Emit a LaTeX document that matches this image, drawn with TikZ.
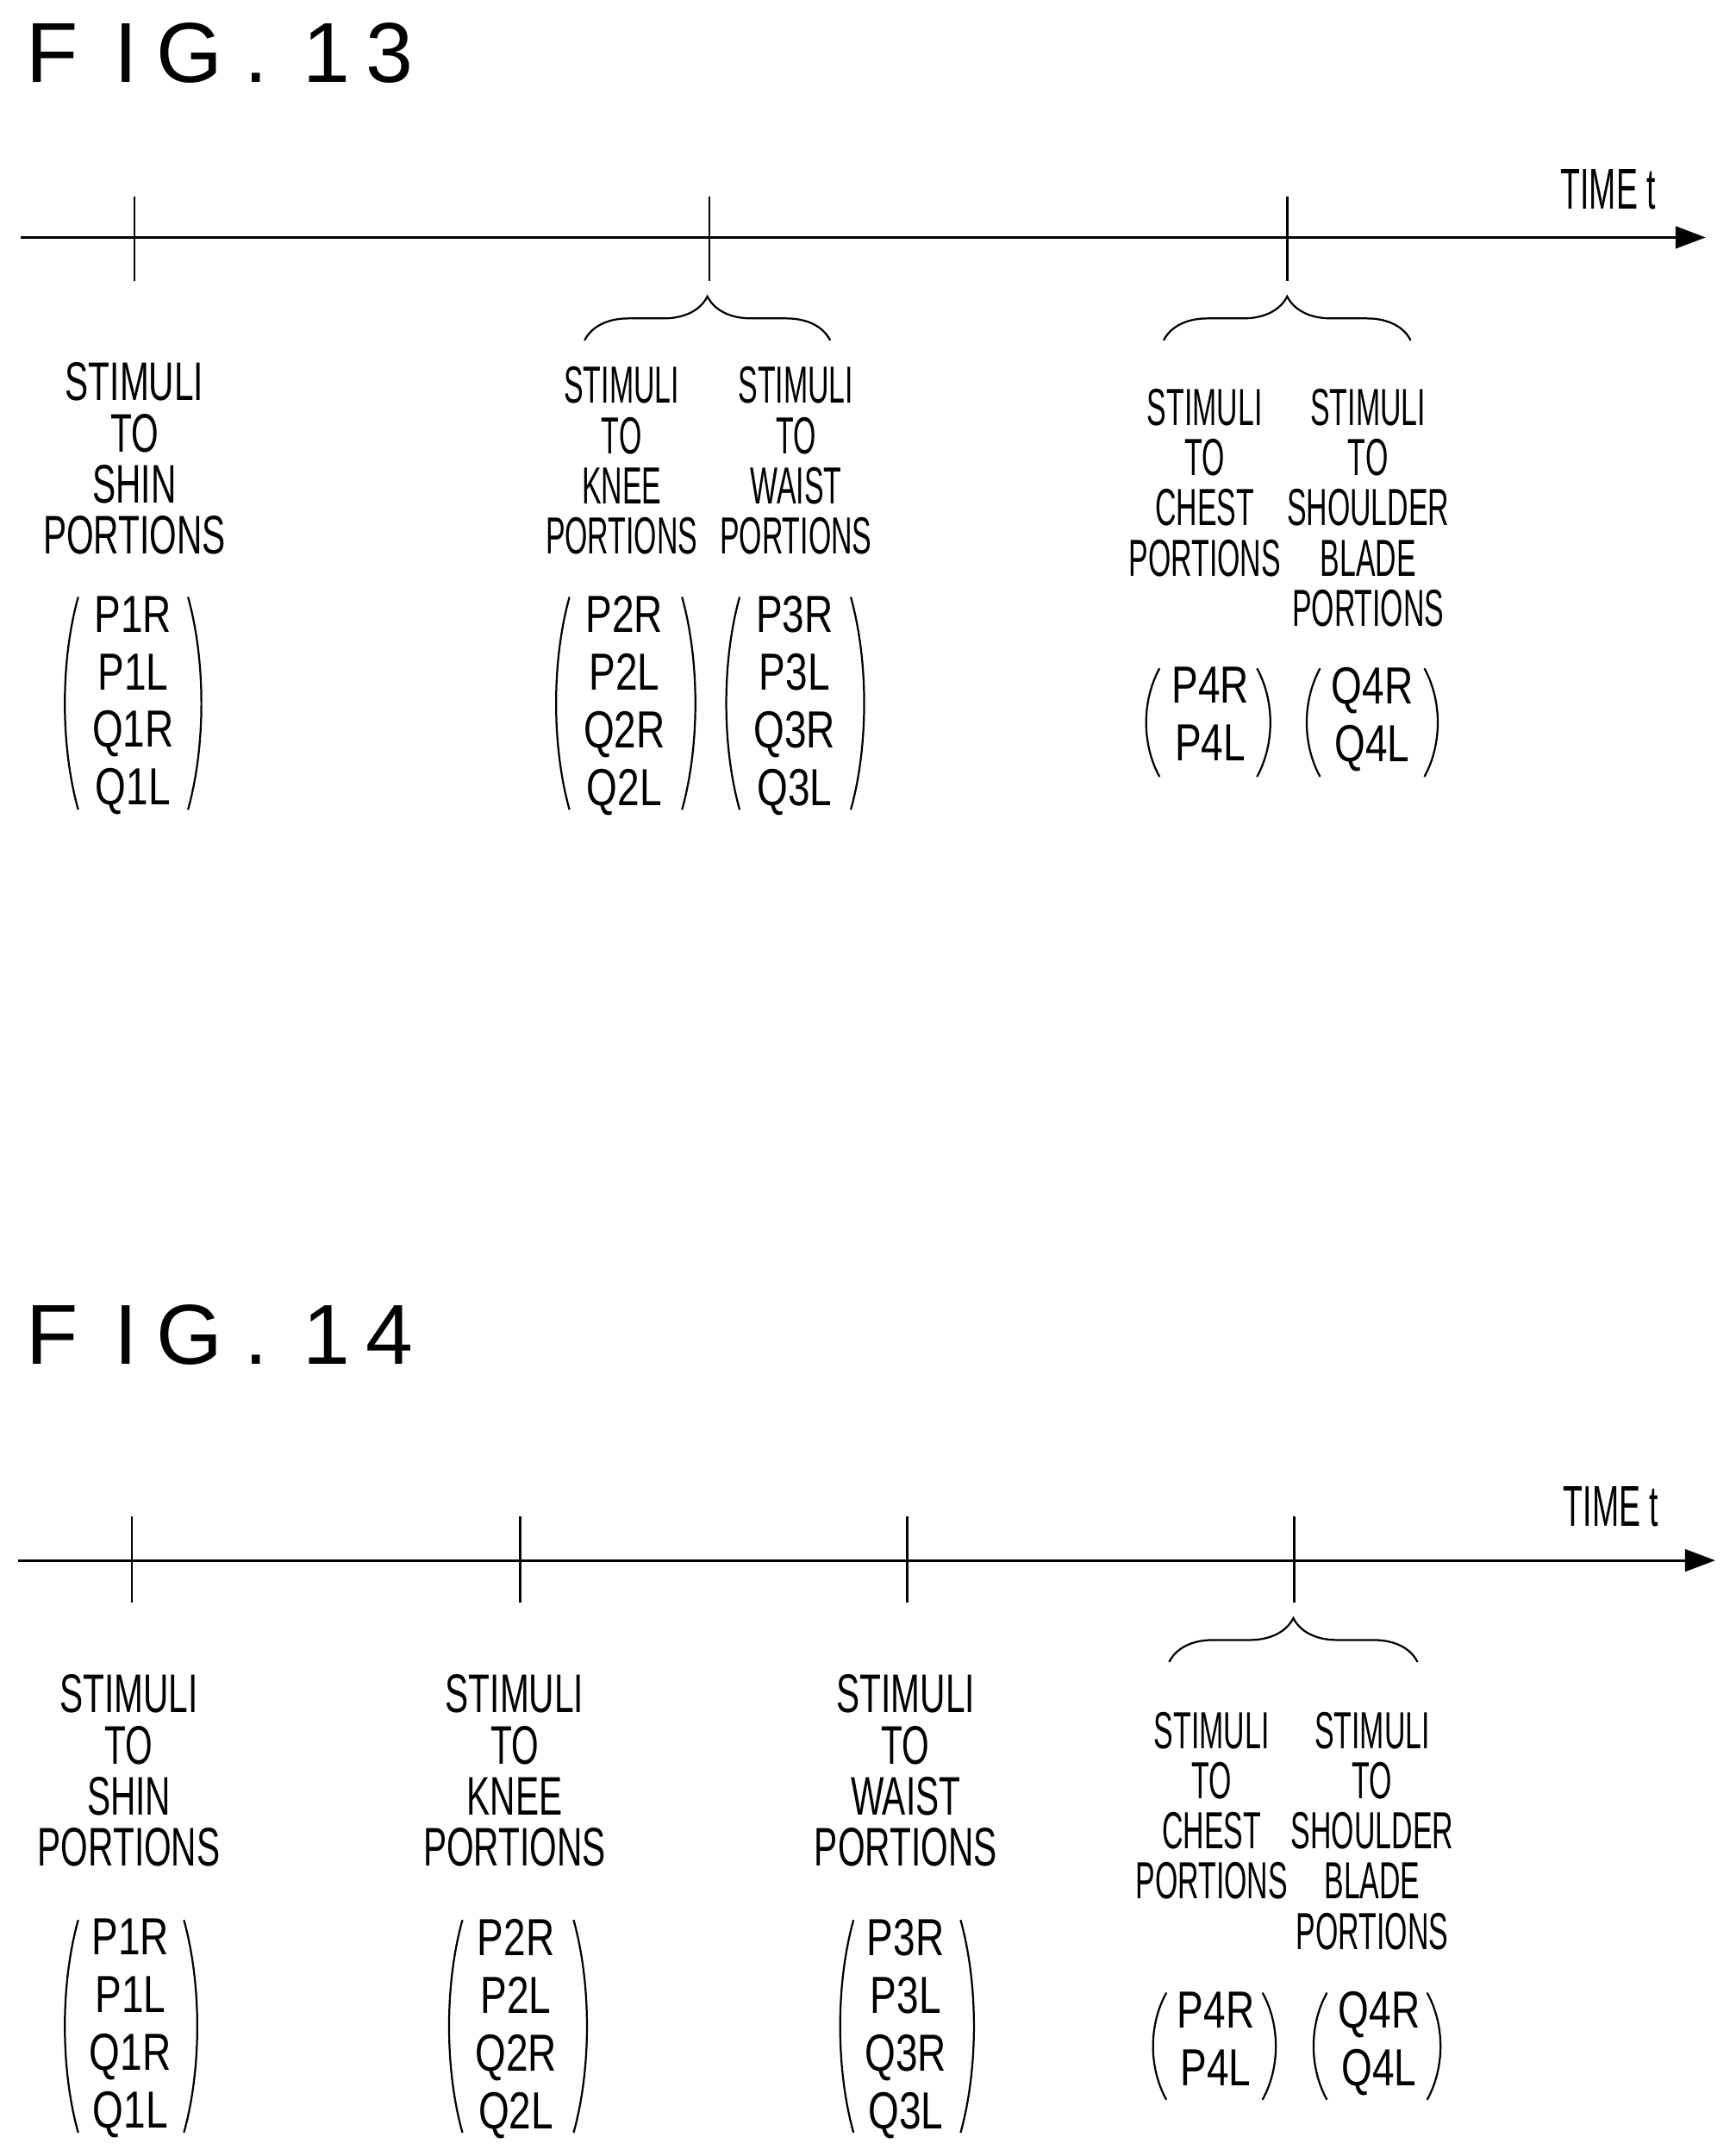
\documentclass[tikz,border=0pt]{standalone}
\usepackage{fontspec}
\setmainfont{Liberation Sans}
\newfontfamily\narrowf{Liberation Sans}[FakeStretch=0.56]
\newfontfamily\bigf{Liberation Sans}[FakeStretch=0.645]
\newfontfamily\matf{Liberation Sans}[FakeStretch=0.76]
\usetikzlibrary{arrows.meta,decorations.pathreplacing}
\tikzset{
 lab/.style={anchor=north,align=center,inner sep=0pt,font=\narrowf\fontsize{19}{18.3}\selectfont},
 labbig/.style={anchor=north,align=center,inner sep=0pt,font=\bigf\fontsize{19.8}{18.6}\selectfont},
 mat/.style={anchor=north,align=center,inner sep=0pt,font=\matf\fontsize{19}{21}\selectfont},
 ttl/.style={inner sep=0pt,anchor=base,font=\fontsize{31}{31}\selectfont},
 axis/.style={line width=1pt,-{Triangle[length=11pt,width=8pt]}},
 tick/.style={line width=0.8pt},
 brc/.style={line width=0.7pt,decorate,decoration={brace,amplitude=16pt}},
 par/.style={line width=0.7pt}
}
\newcommand{\parpair}[4]{% left x, right x, top, bottom
 \draw[par] (#1,#3) .. controls ({#1-13},{#3+(#4-#3)*0.3}) and ({#1-13},{#4-(#4-#3)*0.3}) .. (#1,#4);
 \draw[par] (#2,#3) .. controls ({#2+13},{#3+(#4-#3)*0.3}) and ({#2+13},{#4-(#4-#3)*0.3}) .. (#2,#4);}
\begin{document}
\begin{tikzpicture}[x=0.5pt,y=-0.5pt]
\useasboundingbox (0,0) rectangle (1265,1571);
% ---------- FIG 13
\foreach \c/\x [count=\i] in {F/38,I/92,G/138,./187,1/238,3/284}
  \node[ttl] (ta\i) at (\x,60) {\c};
\coordinate (a0) at (15,173); \coordinate (a1) at (1243,173);
\draw[axis] (a0) -- (a1);
\node[font=\narrowf\fontsize{21}{21}\selectfont,inner sep=0pt] (tA) at (1172,138) {TIME t};
\foreach \x [count=\i] in {98,517,938} \draw[tick] (\x,143) -- (\x,205);
\draw[brc] (426,248) -- (605,248);
\draw[brc] (848,248) -- (1028,248);
\node[labbig] (s1) at (98,264) {STIMULI\\TO\\SHIN\\PORTIONS};
\node[mat] (m1) at (97,434) {P1R\\P1L\\Q1R\\Q1L};
\parpair{57}{137}{435}{590}
\node[lab] (s2) at (453,267) {STIMULI\\TO\\KNEE\\PORTIONS};
\node[mat] (m2) at (455,434) {P2R\\P2L\\Q2R\\Q2L};
\parpair{415}{497}{435}{590}
\node[lab] (s3) at (580,267) {STIMULI\\TO\\WAIST\\PORTIONS};
\node[mat] (m3) at (579,434) {P3R\\P3L\\Q3R\\Q3L};
\parpair{539}{620}{435}{590}
\node[lab] (s4) at (878,283) {STIMULI\\TO\\CHEST\\PORTIONS};
\node[mat] (m4) at (882,486) {P4R\\P4L};
\parpair{845}{916}{487}{566}
\node[lab] (s5) at (997,283) {STIMULI\\TO\\SHOULDER\\BLADE\\PORTIONS};
\node[mat] (m5) at (1000,486) {Q4R\\Q4L};
\parpair{962}{1038}{487}{566}
% ---------- FIG 14
\foreach \c/\x [count=\i] in {F/38,I/92,G/138,./187,1/238,4/284}
  \node[ttl] (tb\i) at (\x,994) {\c};
\coordinate (b0) at (13,1137); \coordinate (b1) at (1250,1137);
\draw[axis] (b0) -- (b1);
\node[font=\narrowf\fontsize{21}{21}\selectfont,inner sep=0pt] (tB) at (1174,1098) {TIME t};
\foreach \x in {96,379,661,943} \draw[tick] (\x,1105) -- (\x,1168);
\draw[brc] (852,1211) -- (1033,1211);
\node[labbig] (u1) at (94,1220) {STIMULI\\TO\\SHIN\\PORTIONS};
\node[mat] (n1) at (95,1398) {P1R\\P1L\\Q1R\\Q1L};
\parpair{57}{134}{1399}{1554}
\node[labbig] (u2) at (375,1220) {STIMULI\\TO\\KNEE\\PORTIONS};
\node[mat] (n2) at (376,1398) {P2R\\P2L\\Q2R\\Q2L};
\parpair{337}{418}{1399}{1554}
\node[labbig] (u3) at (660,1220) {STIMULI\\TO\\WAIST\\PORTIONS};
\node[mat] (n3) at (660,1398) {P3R\\P3L\\Q3R\\Q3L};
\parpair{622}{700}{1399}{1554}
\node[lab] (u4) at (883,1247) {STIMULI\\TO\\CHEST\\PORTIONS};
\node[mat] (n4) at (886,1451) {P4R\\P4L};
\parpair{850}{920}{1452}{1530}
\node[lab] (u5) at (1000,1247) {STIMULI\\TO\\SHOULDER\\BLADE\\PORTIONS};
\node[mat] (n5) at (1005,1451) {Q4R\\Q4L};
\parpair{967}{1040}{1452}{1530}
\end{tikzpicture}
\end{document}
